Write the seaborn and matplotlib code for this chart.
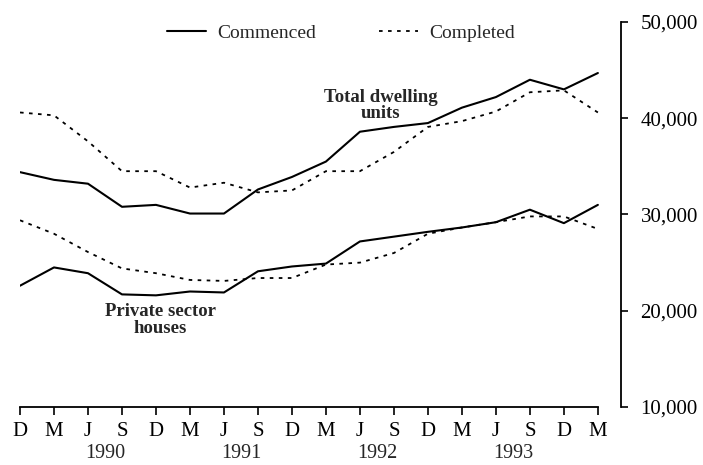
import pandas as pd
import numpy as np
import matplotlib
matplotlib.use("Agg")
import matplotlib.pyplot as plt
import matplotlib.transforms as mtransforms
from matplotlib.lines import Line2D
import seaborn as sns

# quarters from Dec 1989 to Mar 1994
quarters = ['D', 'M', 'J', 'S', 'D', 'M', 'J', 'S', 'D', 'M', 'J', 'S',
            'D', 'M', 'J', 'S', 'D', 'M']
years = ['1990', '1991', '1992', '1993']
year_pos = [2.5, 6.5, 10.5, 14.5]

total_commenced = [34400, 33600, 33200, 30800, 31000, 30100, 30100, 32600, 33900,
                   35500, 38600, 39100, 39500, 41100, 42200, 44000, 43000, 44700]
total_completed = [40600, 40300, 37600, 34500, 34500, 32800, 33300, 32300, 32500,
                   34500, 34500, 36500, 39100, 39700, 40700, 42700, 42900, 40600]
private_commenced = [22600, 24500, 23900, 21700, 21600, 22000, 21900, 24100, 24600,
                     24900, 27200, 27700, 28200, 28650, 29200, 30500, 29100, 31000]
private_completed = [29400, 28000, 26100, 24400, 23900, 23200, 23100, 23400, 23400,
                     24800, 25000, 26000, 28000, 28650, 29200, 29800, 29800, 28500]

rows = []
series = {('total', 'Commenced'): total_commenced,
          ('total', 'Completed'): total_completed,
          ('private', 'Commenced'): private_commenced,
          ('private', 'Completed'): private_completed}
for (grp, status), vals in series.items():
    for i, v in enumerate(vals):
        rows.append({'idx': i, 'value': v, 'group': grp + status, 'status': status})
df = pd.DataFrame(rows)

sns.set_style("white")
plt.rcParams['font.family'] = ['Liberation Serif', 'DejaVu Serif']

fig = plt.figure(figsize=(7.03, 4.65), dpi=100)
ax = fig.add_axes([20 / 703, 1 - 407 / 465, (621 - 20) / 703, (407 - 22) / 465])

sns.lineplot(data=df, x='idx', y='value', units='group', style='status',
             estimator=None, color='black', ax=ax, legend=False,
             dashes={'Commenced': '', 'Completed': (2, 3)},
             style_order=['Commenced', 'Completed'])
for ln in ax.lines:
    if ln.get_linestyle() == '-':
        ln.set_linewidth(1.5)
    else:
        ln.set_linewidth(1.3)

ax.set_xlim(0, 17.68)
ax.set_ylim(10000, 50000)

ax.spines['left'].set_visible(False)
ax.spines['top'].set_visible(False)
ax.spines['bottom'].set_bounds(0, 17)
ax.spines['right'].set_bounds(10000, 50000)
for s in ['bottom', 'right']:
    ax.spines[s].set_linewidth(1.3)
    ax.spines[s].set_color('black')

ax.set_xticks(range(len(quarters)))
ax.set_xticklabels(quarters, fontsize=15)
ax.yaxis.tick_right()
ax.set_yticks([10000, 20000, 30000, 40000, 50000])
ax.set_yticklabels(['10,000', '20,000', '30,000', '40,000', '50,000'], fontsize=15)
ax.tick_params(axis='x', direction='out', length=6, width=1.2, pad=5, colors='black', bottom=True)
ax.tick_params(axis='y', direction='out', length=5, width=1.2, pad=9, colors='black', right=True)
ax.set_xlabel('')
ax.set_ylabel('')

trans = mtransforms.blended_transform_factory(ax.transData, ax.transAxes)
for yr, xp in zip(years, year_pos):
    ax.text(xp, -0.12, yr, transform=trans, ha='center', va='center', fontsize=14.5)

ax.text(10.6, 0.783, 'Total dwelling\nunits', transform=trans, ha='center', va='center',
        fontsize=13.5, fontweight='bold', linespacing=0.95)
ax.text(4.12, 0.226, 'Private sector\nhouses', transform=trans, ha='center', va='center',
        fontsize=13.5, fontweight='bold', linespacing=0.95)

handles = [Line2D([], [], color='black', lw=1.5),
           Line2D([], [], color='black', lw=1.3, linestyle=(0, (2, 3)))]
fig.legend(handles, ['Commenced', 'Completed'], loc='center', ncol=2,
           bbox_to_anchor=(341 / 703, 1 - 33 / 465), frameon=False, fontsize=14,
           handlelength=2.0, columnspacing=3.2, handletextpad=0.6)

fig.savefig('out.png', dpi=100)
